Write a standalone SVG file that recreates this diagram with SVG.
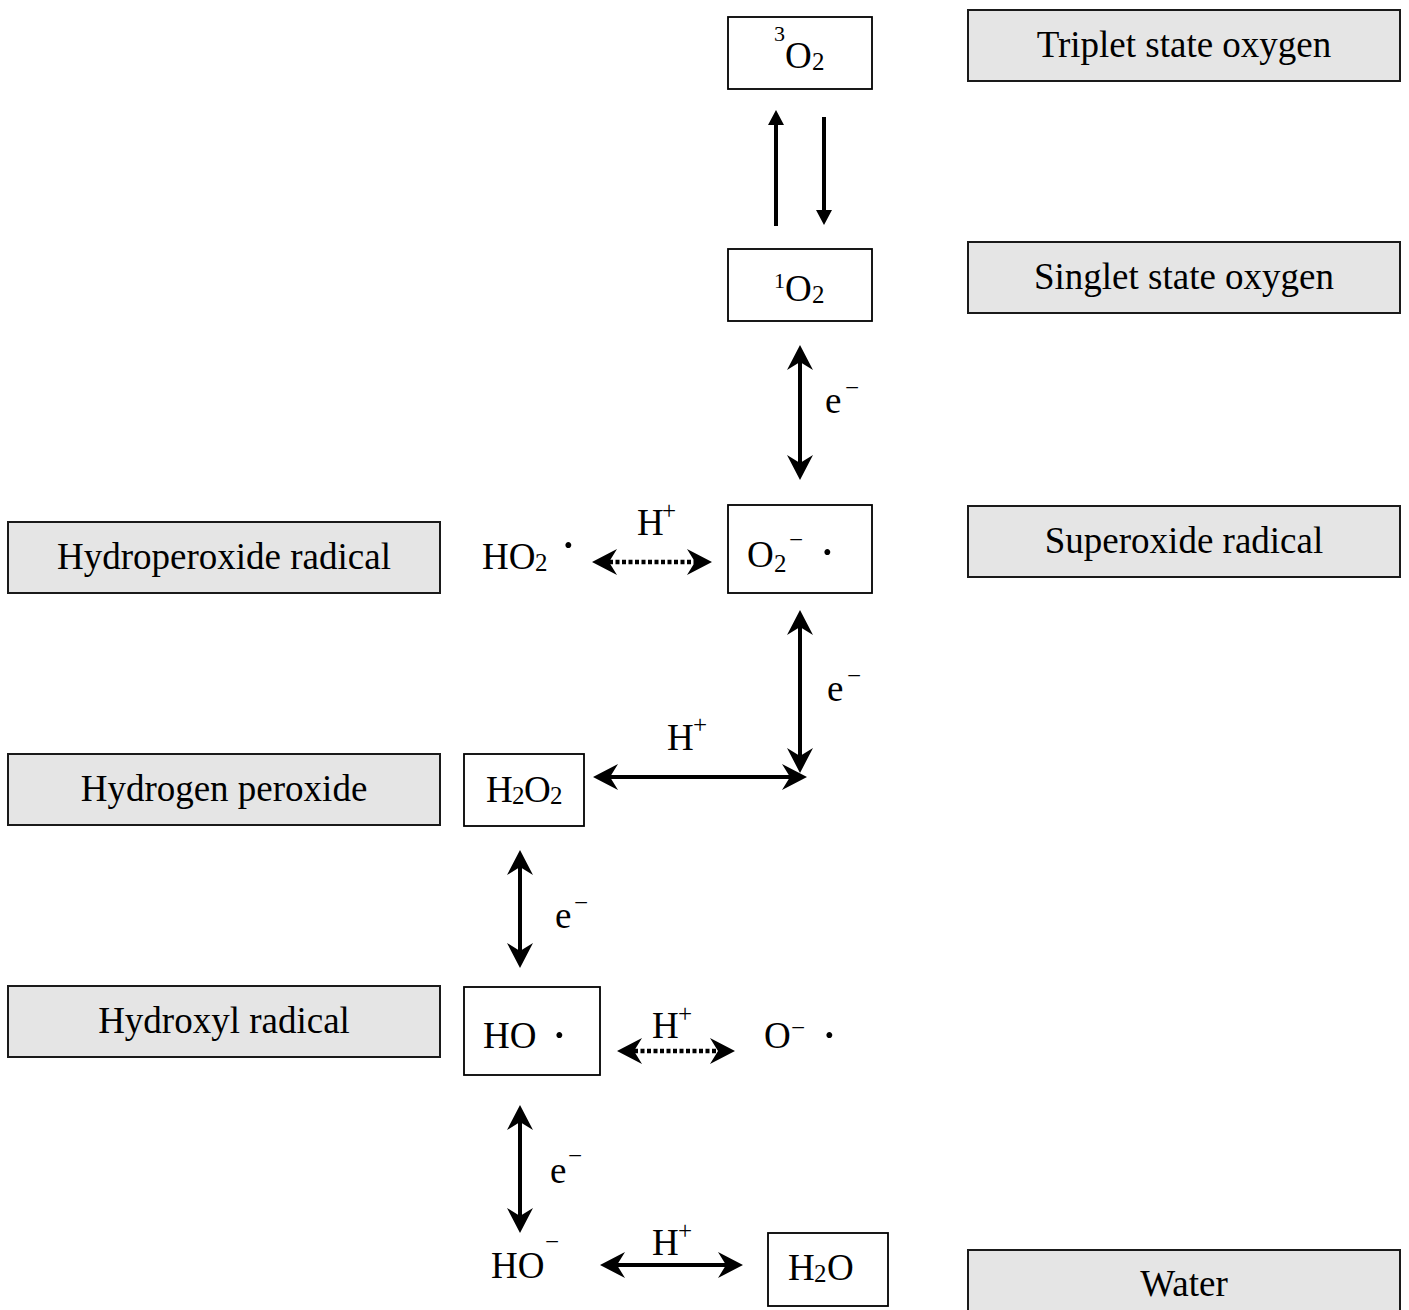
<svg xmlns="http://www.w3.org/2000/svg" width="1409" height="1310" viewBox="0 0 1409 1310">
<style>
text{font-family:"Liberation Serif","Times New Roman",serif;font-size:37px;fill:#000}
.s{font-size:25px}
.sp{font-size:22px}
.d{font-size:50px}
.g{fill:#e5e5e5;stroke:#1a1a1a;stroke-width:2}
.w{fill:#fff;stroke:#000;stroke-width:1.8}
.c{text-anchor:middle}
.ln{stroke:#000;stroke-width:4;fill:none}
.dt{stroke:#000;stroke-width:4.5;fill:none;stroke-dasharray:4 2.5}
</style>
<defs>
<marker id="ah" viewBox="0 -13 25 26" refX="8" refY="0" markerWidth="25" markerHeight="26" markerUnits="userSpaceOnUse" orient="auto-start-reverse"><path d="M25,0 L0,-13 L8,0 L0,13 Z" fill="#000"/></marker>
<marker id="tri" viewBox="0 -8 15 16" refX="0" refY="0" markerWidth="15" markerHeight="16" markerUnits="userSpaceOnUse" orient="auto"><path d="M15,0 L0,-8 L0,8 Z" fill="#000"/></marker>
</defs>
<rect width="1409" height="1310" fill="#fff"/>

<g id="label-triplet"><rect class="g" x="968" y="10" width="432" height="71"/><text class="c" x="1184" y="57">Triplet state oxygen</text></g>
<g id="label-singlet"><rect class="g" x="968" y="242" width="432" height="71"/><text class="c" x="1184" y="289">Singlet state oxygen</text></g>
<g id="label-superoxide"><rect class="g" x="968" y="506" width="432" height="71"/><text class="c" x="1184" y="553">Superoxide radical</text></g>
<g id="label-hydroperoxide"><rect class="g" x="8" y="522" width="432" height="71"/><text class="c" x="224" y="569">Hydroperoxide radical</text></g>
<g id="label-h2o2"><rect class="g" x="8" y="754" width="432" height="71"/><text class="c" x="224" y="801">Hydrogen peroxide</text></g>
<g id="label-hydroxyl"><rect class="g" x="8" y="986" width="432" height="71"/><text class="c" x="224" y="1033">Hydroxyl radical</text></g>
<g id="label-water"><rect class="g" x="968" y="1250" width="432" height="72"/><text class="c" x="1184" y="1296">Water</text></g>

<g id="node-3o2"><rect class="w" x="728" y="17" width="144" height="72"/><text><tspan class="sp" x="774" y="41">3</tspan><tspan x="785" y="68">O</tspan><tspan class="s" x="812" y="70">2</tspan></text></g>
<g id="node-1o2"><rect class="w" x="728" y="249" width="144" height="72"/><text><tspan class="sp" x="774" y="288">1</tspan><tspan x="785" y="301">O</tspan><tspan class="s" x="812" y="303">2</tspan></text></g>
<g id="node-o2rad"><rect class="w" x="728" y="505" width="144" height="88"/><text><tspan x="747" y="567">O</tspan><tspan class="s" x="774" y="572">2</tspan><tspan class="s" x="789" y="548">−</tspan><tspan class="d" x="819" y="569">·</tspan></text></g>
<g id="node-ho2"><text><tspan x="482" y="569">HO</tspan><tspan class="s" x="535" y="571">2</tspan><tspan class="d" x="560" y="562">·</tspan></text></g>
<g id="node-h2o2"><rect class="w" x="464" y="754" width="120" height="72"/><text><tspan x="486" y="802">H</tspan><tspan class="s" x="512" y="804">2</tspan><tspan x="524" y="802">O</tspan><tspan class="s" x="550" y="804">2</tspan></text></g>
<g id="node-ho"><rect class="w" x="464" y="987" width="136" height="88"/><text><tspan x="483" y="1048">HO</tspan><tspan class="d" x="551" y="1052">·</tspan></text></g>
<g id="node-orad"><text><tspan x="764" y="1048">O</tspan><tspan class="s" x="791" y="1036">−</tspan><tspan class="d" x="821" y="1052">·</tspan></text></g>
<g id="node-hominus"><text><tspan x="491" y="1278">HO</tspan><tspan class="s" x="545" y="1250">−</tspan></text></g>
<g id="node-h2o"><rect class="w" x="768" y="1233" width="120" height="73"/><text><tspan x="788" y="1280">H</tspan><tspan class="s" x="814" y="1282">2</tspan><tspan x="827" y="1280">O</tspan></text></g>

<g id="connectors">
<line class="ln" x1="776" y1="226" x2="776" y2="125" marker-end="url(#tri)"/>
<line class="ln" x1="824" y1="117" x2="824" y2="210" marker-end="url(#tri)"/>
<line class="ln" x1="800" y1="362" x2="800" y2="463" marker-start="url(#ah)" marker-end="url(#ah)"/>
<line class="ln" x1="800" y1="627" x2="800" y2="756" marker-start="url(#ah)" marker-end="url(#ah)"/>
<line class="ln" x1="610" y1="777" x2="790" y2="777" marker-start="url(#ah)" marker-end="url(#ah)"/>
<line class="dt" x1="609" y1="562" x2="695" y2="562" marker-start="url(#ah)" marker-end="url(#ah)"/>
<line class="ln" x1="520" y1="867" x2="520" y2="951" marker-start="url(#ah)" marker-end="url(#ah)"/>
<line class="dt" x1="634" y1="1051" x2="718" y2="1051" marker-start="url(#ah)" marker-end="url(#ah)"/>
<line class="ln" x1="520" y1="1122" x2="520" y2="1216" marker-start="url(#ah)" marker-end="url(#ah)"/>
<line class="ln" x1="617" y1="1265" x2="726" y2="1265" marker-start="url(#ah)" marker-end="url(#ah)"/>
<text x="637" y="535">H</text><text class="s" x="662" y="519">+</text>
<text x="667" y="750">H</text><text class="s" x="693" y="733">+</text>
<text x="652" y="1038">H</text><text class="s" x="678" y="1022">+</text>
<text x="652" y="1255">H</text><text class="s" x="678" y="1239">+</text>
<text x="825" y="413">e</text><text class="s" x="845" y="396">−</text>
<text x="827" y="701">e</text><text class="s" x="847" y="684">−</text>
<text x="555" y="928">e</text><text class="s" x="574" y="911">−</text>
<text x="550" y="1183">e</text><text class="s" x="568" y="1164">−</text>
</g>
</svg>
